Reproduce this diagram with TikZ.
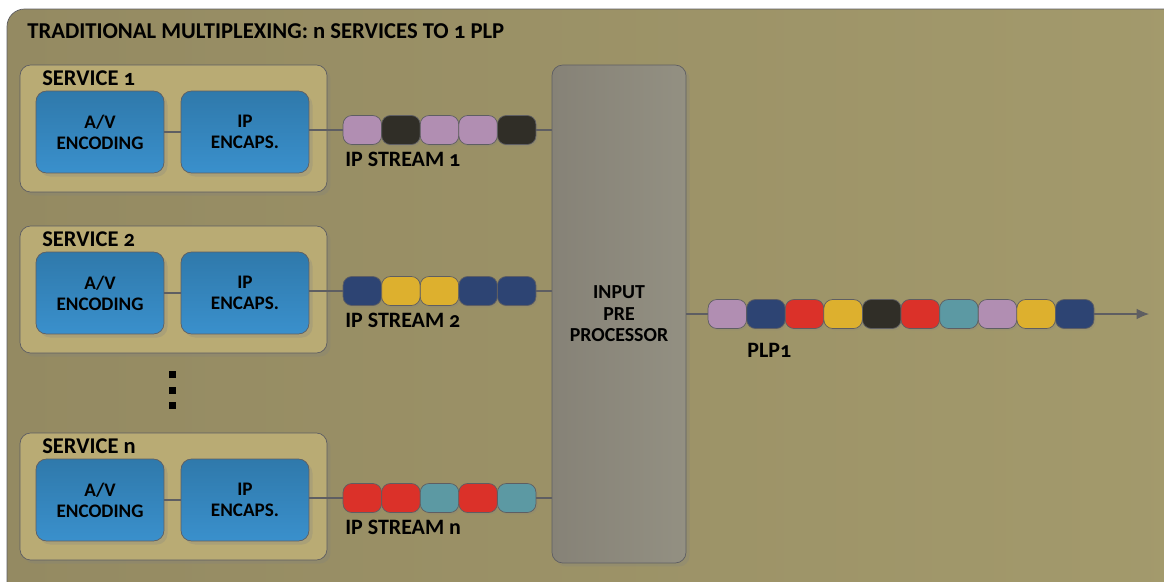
\documentclass[tikz,border=0pt]{standalone}
\usepackage{fontspec}
\setmainfont{Carlito}[Numbers=OldStyle]
\usepackage{xcolor}
\usepackage{tikz}
\usetikzlibrary{arrows.meta,shadows}

\definecolor{bgA}{HTML}{948A62}
\definecolor{bgB}{HTML}{A39A6C}
\definecolor{svcfill}{HTML}{B9AB74}
\definecolor{blueA}{HTML}{2F79AB}
\definecolor{blueB}{HTML}{3A90CC}
\definecolor{procA}{HTML}{868277}
\definecolor{procB}{HTML}{939082}
\definecolor{edge}{HTML}{5E5E62}
\definecolor{lila}{HTML}{B18EB2}
\definecolor{dark}{HTML}{302E27}
\definecolor{navy}{HTML}{2D4473}
\definecolor{gold}{HTML}{DDB02E}
\definecolor{red}{HTML}{DB3129}
\definecolor{teal}{HTML}{5C99A3}

\tikzset{
    svcbox/.style={draw=edge, rounded corners=6pt, fill=svcfill,
        minimum width=6.14cm, minimum height=2.54cm, inner sep=0pt,
        drop shadow={opacity=0.25, shadow xshift=2pt, shadow yshift=-2pt}},
    bluebox/.style={draw=edge, rounded corners=6pt, top color=blueA, bottom color=blueB,
        minimum width=2.56cm, minimum height=1.64cm, inner sep=0pt, align=center,
        font=\fontsize{10.9}{12}\selectfont\bfseries,
        drop shadow={opacity=0.25, shadow xshift=2pt, shadow yshift=-2pt}},
    procbox/.style={draw=edge, rounded corners=6pt, left color=procA, right color=procB,
        minimum width=2.68cm, minimum height=9.96cm, inner sep=0pt, align=center,
        font=\fontsize{11.3}{12.3}\selectfont\bfseries,
        drop shadow={opacity=0.25, shadow xshift=2pt, shadow yshift=-2pt}},
    pkt/.style={draw=edge, rounded corners=5pt, minimum width=0.77cm,
        minimum height=0.58cm, inner sep=0pt,
        drop shadow={opacity=0.2, shadow xshift=1pt, shadow yshift=-1pt}},
    lbl/.style={anchor=west, inner sep=0pt, font=\fontsize{12.5}{14}\selectfont\bfseries},
    wire/.style={draw=edge, line width=0.6pt}
}

\begin{document}
\begin{tikzpicture}[x=0.02cm, y=-0.02cm]
    \useasboundingbox (0,0) rectangle (1164,582);
    \clip (0,0) rectangle (1164,582);

    % background panel
    \draw[draw=edge, rounded corners=10pt, left color=bgA, right color=bgB]
        (7,9) rectangle (1190,600);
    \node[lbl, font=\fontsize{12.9}{14}\selectfont\bfseries] (title) at (27,31)
        {TRADITIONAL MULTIPLEXING: n SERVICES TO 1 PLP};

    % pre processor
    \node[procbox] (proc) at (619,314) {INPUT\\PRE\\PROCESSOR};

    % services and their streams
    \foreach \tp/\sv/\pk in {65/1/{lila,dark,lila,lila,dark},
                             226/2/{navy,gold,gold,navy,navy},
                             433/n/{red,red,teal,red,teal}} {
        \node[svcbox] (svc\sv) at (173.5,\tp+63.5) {};
        \node[lbl, font=\fontsize{12.8}{14}\selectfont\bfseries] (svclbl\sv) at (42,\tp+13) {SERVICE \sv};
        \node[bluebox] (av\sv) at (100,\tp+67) {A/V\\ENCODING};
        \node[bluebox] (ip\sv) at (245,\tp+67) {IP\\ENCAPS.};
        \foreach \c [count=\i] in \pk {
            \node[pkt, fill=\c] (s\sv p\i) at ({343+19.3+(\i-1)*38.6},\tp+65) {};
        }
        \node[lbl] (stream\sv) at (345,\tp+94) {IP STREAM \sv};
        \draw[wire] (av\sv.east |- ip\sv.west) -- (ip\sv.west);
        \draw[wire] (ip\sv.east |- s\sv p1.west) -- (s\sv p1.west);
        \draw[wire] (s\sv p5.east) -- (s\sv p5.east -| proc.west);
    }

    % dots between service 2 and n
    \foreach \yy in {374.5,390.5,405.5}
        \fill[black] (168.5,\yy-3.5) rectangle (175.5,\yy+3.5);

    % output PLP
    \foreach \c [count=\i] in {lila,navy,red,gold,dark,red,teal,lila,gold,navy} {
        \node[pkt, fill=\c] (plp\i) at ({708+19.3+(\i-1)*38.6},314) {};
    }
    \coordinate (out) at (1149,314);
    \draw[wire] (proc.east |- plp1.west) -- (plp1.west);
    \draw[wire, -{Latex[length=7pt, width=6pt]}] (plp10.east) -- (out);
    \node[lbl] (plplbl) at (747,350) {PLP1};
\end{tikzpicture}
\end{document}
